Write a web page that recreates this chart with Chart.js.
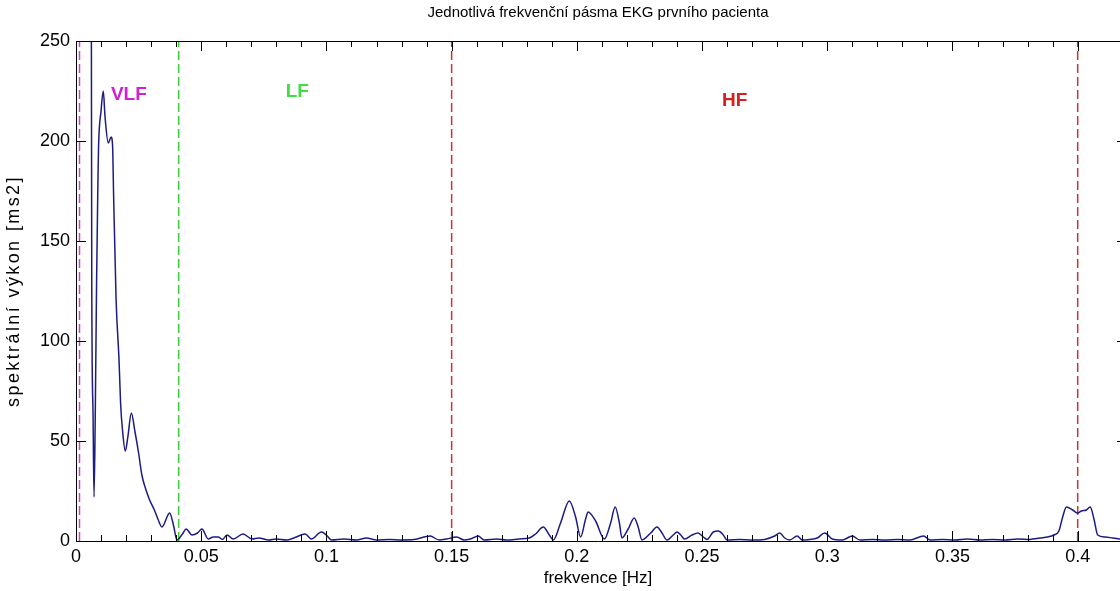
<!DOCTYPE html>
<html>
<head>
<meta charset="utf-8">
<script src="https://cdn.jsdelivr.net/npm/chart.js@4"></script>
<style>
  html, body { margin: 0; padding: 0; background: #fff; }
  canvas { display: block; }
</style>
</head>
<body>
<canvas id="chart" width="1120" height="591"></canvas>
<script>
// spectrum
const freq = [
  0.0060, 0.0063, 0.0068, 0.0072, 0.0077, 0.0082, 0.0087, 0.0090, 0.0100, 0.0109,
  0.0116, 0.0129, 0.0140, 0.0146, 0.0150, 0.0160, 0.0172, 0.0178, 0.0186, 0.0197,
  0.0207, 0.0221, 0.0235, 0.0250, 0.0263, 0.0281, 0.0294, 0.0313, 0.0327, 0.0343,
  0.0374, 0.0390, 0.0403, 0.0425, 0.0440, 0.0463, 0.0485, 0.0503, 0.0528, 0.0548,
  0.0568, 0.0585, 0.0603, 0.0628, 0.0667, 0.0703, 0.0730, 0.0770, 0.0800, 0.0840,
  0.0870, 0.0915, 0.0940, 0.0980, 0.1000, 0.1020, 0.1070, 0.1120, 0.1160, 0.1200,
  0.1250, 0.1300, 0.1350, 0.1414, 0.1450, 0.1480, 0.1520, 0.1550, 0.1575, 0.1606,
  0.1630, 0.1680, 0.1720, 0.1770, 0.1810, 0.1835, 0.1866, 0.1890, 0.1906, 0.1935,
  0.1970, 0.1995, 0.2015, 0.2035, 0.2045, 0.2075, 0.2110, 0.2135, 0.2153, 0.2170,
  0.2180, 0.2205, 0.2229, 0.2245, 0.2260, 0.2295, 0.2320, 0.2340, 0.2360, 0.2385,
  0.2400, 0.2415, 0.2430, 0.2460, 0.2484, 0.2505, 0.2520, 0.2545, 0.2565, 0.2585,
  0.2600, 0.2650, 0.2700, 0.2750, 0.2790, 0.2810, 0.2830, 0.2850, 0.2880, 0.2900,
  0.2930, 0.2960, 0.2990, 0.3020, 0.3060, 0.3100, 0.3130, 0.3180, 0.3230, 0.3280,
  0.3330, 0.3385, 0.3410, 0.3460, 0.3510, 0.3560, 0.3610, 0.3660, 0.3710, 0.3760,
  0.3810, 0.3850, 0.3880, 0.3905, 0.3925, 0.3940, 0.3955, 0.3980, 0.4000, 0.4015,
  0.4035, 0.4050, 0.4065, 0.4080, 0.4110, 0.4140, 0.4170
];
const power = [
  380, 127, 64, 22, 64, 127, 175, 197, 215, 225,
  212, 199, 202, 198, 174, 121, 90, 69, 55, 45,
  52, 64, 55, 44, 33, 25, 20.5, 15.5, 11, 7,
  14, 7.5, 0.5, 3.5, 6, 3, 4, 6, 1, 2,
  2, 0.8, 3, 1, 3.5, 1, 1.5, 0.5, 1, 0.5,
  1.5, 3.5, 1, 4.5, 3, 0.5, 1, 0.5, 1.5, 0.5,
  0.8, 0.5, 0.7, 2.5, 0.5, 1, 2, 0.5, 1, 2.5,
  0.5, 1, 0.5, 1, 1.5, 3.5, 7, 3, 0.5, 9,
  20, 12, 2, 11, 14.5, 10, 1, 9, 17, 9,
  1.5, 6, 11.5, 7, 0.5, 4, 7, 4, 0.5, 3,
  4.5, 3, 1, 3, 4, 2, 0.8, 4.5, 5, 3,
  0.5, 0.8, 0.5, 0.8, 2.5, 4, 1.5, 0.5, 2.5, 0.5,
  0.8, 1.5, 4, 1, 0.5, 2.5, 0.5, 0.8, 0.5, 0.8,
  0.5, 2.5, 0.5, 0.8, 0.5, 1, 0.5, 0.8, 0.5, 1,
  0.8, 1.5, 2, 3, 5, 12, 17, 15.5, 14, 15,
  15.5, 17, 11, 3, 2, 1.5, 1
];

// frequency band borders (dashed lines) and their names
const bandEdges = [0.0014, 0.041, 0.15, 0.4];
const edgeColors = ['#cc44cc', '#3ccc3c', '#c83238', '#c83238'];
const bandNames = ['VLF', 'LF', 'HF'];
const bandColors = ['#d020d0', '#44dc44', '#d42020'];

const xTicks = [0, 0.05, 0.1, 0.15, 0.2, 0.25, 0.3, 0.35, 0.4];
const yTicks = [0, 50, 100, 150, 200, 250];

const titleText = 'Jednotlivá frekvenční pásma EKG prvního pacienta';
const yTitle = 'spektrální výkon [ms2]';
const FONT = '"Liberation Sans", Arial, sans-serif';

const spectrum = freq.map((f, i) => ({ x: f, y: power[i] }));

const datasets = [{
  data: spectrum,
  borderColor: '#1c1c82',
  borderWidth: 1.5,
  pointRadius: 0,
  cubicInterpolationMode: 'monotone',
  order: 0
}];
bandEdges.forEach((e, i) => {
  datasets.push({
    data: [{ x: e, y: 0 }, { x: e, y: 250 }],
    borderColor: edgeColors[i],
    borderWidth: 1.5,
    borderDash: [9, 4],
    pointRadius: 0,
    order: 1
  });
});

// matlab like box: top border, inward ticks, titles and band names
const boxPlugin = {
  id: 'box',
  afterDraw(chart) {
    const ctx = chart.ctx;
    const a = chart.chartArea;
    const xs = chart.scales.x, ys = chart.scales.y;
    ctx.save();
    ctx.strokeStyle = '#000';
    ctx.lineWidth = 1;
    ctx.beginPath();
    ctx.moveTo(a.left, a.top + 0.5);
    ctx.lineTo(a.right, a.top + 0.5);
    // x ticks every 0.01, longer at labels
    for (let k = 0; k <= 40; k++) {
      const px = Math.round(xs.getPixelForValue(k / 100)) + 0.5;
      const len = (k % 5 === 0) ? 10 : 6;
      ctx.moveTo(px, a.bottom);
      ctx.lineTo(px, a.bottom - len);
      ctx.moveTo(px, a.top);
      ctx.lineTo(px, a.top + len);
    }
    yTicks.forEach(v => {
      const py = Math.round(ys.getPixelForValue(v)) + 0.5;
      ctx.moveTo(a.left, py);
      ctx.lineTo(a.left + 10, py);
      ctx.moveTo(a.right, py);
      ctx.lineTo(a.right - 3, py);
    });
    ctx.stroke();

    ctx.fillStyle = '#000';
    ctx.font = '15px ' + FONT;
    ctx.textAlign = 'center';
    ctx.textBaseline = 'middle';
    ctx.fillText(titleText, (a.left + a.right) / 2, 13);

    // rotated y title, spaced out like the original
    ctx.save();
    ctx.translate(14, (a.top + a.bottom) / 2);
    ctx.rotate(-Math.PI / 2);
    ctx.font = '18px ' + FONT;
    ctx.letterSpacing = '2.4px';
    ctx.fillText(yTitle, 0, 0);
    ctx.restore();

    const labelPos = [[0.0211, 223], [0.0884, 224.5], [0.263, 220]];
    ctx.font = 'bold 19px ' + FONT;
    bandNames.forEach((n, i) => {
      ctx.fillStyle = bandColors[i];
      ctx.fillText(n, xs.getPixelForValue(labelPos[i][0]), ys.getPixelForValue(labelPos[i][1]));
    });
    ctx.restore();
  }
};

new Chart(document.getElementById('chart'), {
  type: 'line',
  data: { datasets: datasets },
  options: {
    responsive: false,
    animation: false,
    devicePixelRatio: 1,
    layout: { padding: { top: 41, left: 0, right: 0, bottom: 0 } },
    plugins: { legend: { display: false }, tooltip: { enabled: false } },
    scales: {
      x: {
        type: 'linear',
        min: 0,
        max: 0.4169,
        afterBuildTicks: s => { s.ticks = xTicks.map(v => ({ value: v })); },
        afterFit: s => { s.height = 50; },
        grid: { display: false, drawTicks: false },
        border: { display: true, color: '#000', width: 1 },
        ticks: {
          color: '#000',
          font: { family: FONT, size: 18 },
          padding: 5,
          maxRotation: 0,
          autoSkip: false,
          callback: v => String(v)
        },
        title: {
          display: true,
          text: 'frekvence [Hz]',
          color: '#000',
          font: { family: FONT, size: 17 },
          padding: { top: 0, bottom: 2 }
        }
      },
      y: {
        min: 0,
        max: 250,
        afterBuildTicks: s => { s.ticks = yTicks.map(v => ({ value: v })); },
        afterFit: s => { s.width = 76; },
        grid: { display: false, drawTicks: false },
        border: { display: true, color: '#000', width: 1 },
        ticks: {
          color: '#000',
          font: { family: FONT, size: 18 },
          padding: 6
        }
      }
    }
  },
  plugins: [boxPlugin]
});
</script>
</body>
</html>
